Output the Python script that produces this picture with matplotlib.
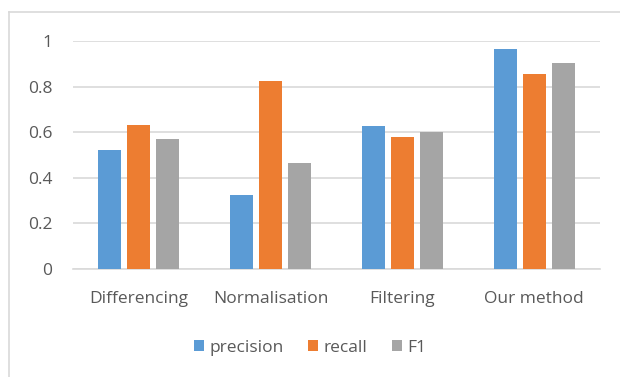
import matplotlib.pyplot as plt
import numpy as np

categories = ['Differencing', 'Normalisation', 'Filtering', 'Our method']
precision = [0.522, 0.325, 0.627, 0.963]
recall = [0.632, 0.825, 0.577, 0.855]
f1 = [0.570, 0.465, 0.600, 0.903]

colors = ['#5b9bd5', '#ed7d31', '#a5a5a5']
txt = '#595959'

plt.rcParams['font.family'] = ['Open Sans', 'DejaVu Sans']

fig = plt.figure(figsize=(6.2, 3.77), dpi=100)
ax = fig.add_axes([73/620, 1 - 269/377, 527/620, 228/377])

x = np.arange(len(categories))
w = 0.174
step = 0.22
for i, (vals, lab) in enumerate(zip([precision, recall, f1], ['precision', 'recall', 'F1'])):
    ax.bar(x + (i - 1) * step, vals, w, color=colors[i], label=lab, zorder=3)

ax.set_xlim(-0.5, 3.5)
ax.set_ylim(0, 1)
ax.set_yticks([0, 0.2, 0.4, 0.6, 0.8, 1])
ax.set_yticklabels(['0', '0.2', '0.4', '0.6', '0.8', '1'])
ax.set_xticks(x)
ax.set_xticklabels(categories)
ax.grid(axis='y', color='#d9d9d9', linewidth=1.2, zorder=0)
for s in ['top', 'right', 'left']:
    ax.spines[s].set_visible(False)
ax.spines['bottom'].set_color('#d9d9d9')
ax.spines['bottom'].set_linewidth(1.2)
ax.tick_params(axis='both', length=0, colors=txt, labelsize=12.5)
ax.tick_params(axis='y', pad=15)
ax.tick_params(axis='x', pad=16)

leg = fig.legend(loc='center', bbox_to_anchor=(0.5, 1 - 348/377), ncol=3, frameon=False,
                 fontsize=12.5, handlelength=0.6, handleheight=0.6, columnspacing=1.4,
                 handletextpad=0.3)
for t in leg.get_texts():
    t.set_color(txt)

# frame of the chart area (only top and left edges show)
fig.add_artist(plt.Line2D([9/620, 9/620], [0, 1 - 12/377], transform=fig.transFigure,
                          color='#d9d9d9', linewidth=1.2))
fig.add_artist(plt.Line2D([9/620, 1], [1 - 12/377, 1 - 12/377], transform=fig.transFigure,
                          color='#d9d9d9', linewidth=1.2))

fig.savefig('out.png', dpi=100)
